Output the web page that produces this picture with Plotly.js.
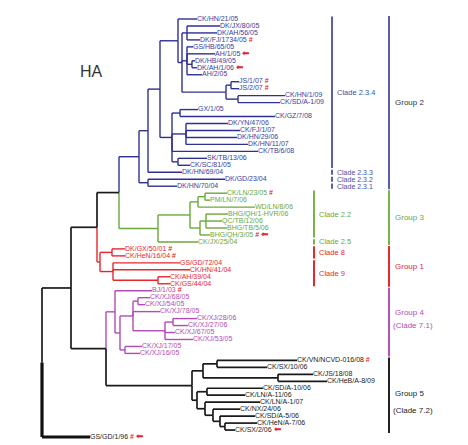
<!DOCTYPE html>
<html><head><meta charset="utf-8">
<script src="https://cdn.plot.ly/plotly-3.0.1.min.js"></script>
<style>html,body{margin:0;padding:0;background:#fff}</style>
</head><body><div id="chart" style="width:468px;height:445px"></div>
<script>
// ---- internal nodes of the HA tree (depth = distance from left edge, tree units) ----
const nodeIds     = ['R','N71','N97','N119','N139','N148','C234','A','A1','A2','A3','A4','J','JS','HS','B','GG','B1','B2','GD70',
                     'G','G22','GA','GLN','GB','GB1','RR','C8','C9','AHGS','N106','P0','P1','P2','P2a','P3','P3a','P4',
                     'G5','G5a','VS','JH','G5c','SL','L1','L2','L3','L4'];
const nodeParents = [null,'R','N71','N97','N119','N139','N148','C234','A','A1','A1','A3','A1','J','J','C234','B','B','B','N139',
                     'N119','G','G22','GA','G22','GB','N97','RR','RR','C9','N71','N106','P0','P1','P2','P2','P3','P1',
                     'N106','G5','G5a','G5a','G5','G5c','G5c','L1','L2','L3'];
const nodeDepth   = [42,71,97,119,139,148,160,178,182,187,187,192,226,231,238,172,180,186,178,148,
                     158,190,198,205,200,206,100,112,113,158,106,115,120,133,138,165,173,125,
                     192,203,217,278,197,207,205,213,220,225];

// ---- leaves (top to bottom) ----
const leafNames = ['CK/HN/21/05','DK/JX/80/05','DK/AH/56/05','DK/FJ/1734/05','GS/HB/65/05','AH/1/05','DK/HB/49/05','DK/AH/1/06','AH/2/05',
  'JS/1/07','JS/2/07','CK/HN/1/09','CK/SD/A-1/09','GX/1/05','CK/GZ/7/08','DK/YN/47/06','CK/FJ/1/07','DK/HN/29/06','DK/HN/11/07',
  'CK/TB/6/08','SK/TB/13/06','CK/SC/81/05','DK/HN/69/04','DK/GD/23/04','DK/HN/70/04',
  'CK/LN/23/05','PM/LN/7/06','WD/LN/8/06','BHG/QH/1-HVR/06','QC/TB/12/06','BHG/TB/5/06','BHG/QH/3/05','CK/JX/25/04',
  'DK/GX/50/01','CK/HeN/16/04','GS/GD/72/04','CK/HN/41/04','CK/AH/39/04','CK/GS/44/04',
  'BJ/1/03','CK/XJ/68/05','CK/XJ/54/05','CK/XJ/78/05','CK/XJ/28/06','CK/XJ/27/06','CK/XJ/67/05','CK/XJ/53/05','CK/XJ/17/05','CK/XJ/16/05',
  'CK/VN/NCVD-016/08','CK/SX/10/06','CK/JS/18/08','CK/HeB/A-8/09','CK/SD/A-10/06','CK/LN/A-11/06','CK/LN/A-1/07','CK/NX/24/06',
  'CK/SD/A-5/06','CK/HeN/A-7/06','CK/SX/2/06','GS/GD/1/96'];
const leafParents = ['A','A2','A2','A2','A3','A3','A4','A4','A3','JS','JS','HS','HS','GG','GG','B1','B1','B1','B1','B','B2','B2','N148','GD70','GD70',
  'GLN','GLN','GA','GB1','GB1','GB1','GB','G',
  'C8','C8','C9','C9','AHGS','AHGS',
  'P0','P2a','P2a','P2','P3a','P3a','P3','P3','P4','P4',
  'VS','VS','JH','JH','SL','SL','L1','L2','L3','L4','L4','R'];
const leafDepth = [197,220,217,200,193,215,195,197,202,239,239,285,280,198,275,228,240,237,248,258,207,190,182,225,177,
  227,210,255,228,222,227,210,198,
  125,125,180,190,170,170,
  152,150,145,160,197,188,175,193,142,140,
  297,267,313,327,263,245,260,240,255,257,235,90];
const leafGroups = [2,2,2,2,2,2,2,2,2,2,2,2,2,2,2,2,2,2,2,2,2,2,2,2,2,
  3,3,3,3,3,3,3,3, 1,1,1,1,1,1, 4,4,4,4,4,4,4,4,4,4, 5,5,5,5,5,5,5,5,5,5,5, 0];
const leafHash  = [3,9,10,25,31,33,34,39,49,60];   // names marked with a red #
const leafArrow = [5,7,31,59,60];                  // names marked with a red arrow

// ---- clades and groups (first / last leaf index) ----
const cladeNames = ['Clade 2.3.4','Clade 2.3.3','Clade 2.3.2','Clade 2.3.1','Clade 2.2','Clade 2.5','Clade 8','Clade 9'];
const cladeFirst = [0,22,23,24,25,32,33,35];
const cladeLast  = [21,22,23,24,31,32,34,38];
const cladeGroup = [2,2,2,2,3,3,1,1];
const groupNames = ['Group 2','Group 3','Group 1','Group 4','Group 5'];
const groupSub   = ['','','','(Clade 7.1)','(Clade 7.2)'];
const groupIds   = [2,3,1,4,5];
const groupFirst = [0,25,33,39,49];
const groupLast  = [24,32,38,48,59];

// ---- styles ----
const lineCol = {0:'#1a1a1a',1:'#e8262d',2:'#2e3192',3:'#6aa83c',4:'#b24bb6',5:'#1a1a1a',mix:'#1a1a1a'};
const textCol = {0:'#222222',1:'#e8262d',2:'#3a3d9c',3:'#6aa83c',4:'#b24bb6',5:'#222222'};
const barCol  = {1:'#e8262d',2:'#5b5ea8',3:'#76b446',4:'#b752ba',5:'#222222'};
const labCol  = {1:'#e8262d',2:'#333333',3:'#6aa83c',4:'#b24bb6',5:'#222222'};
const labShift = {4:[10,-3], 5:[2,-15]};
const RED = '#e8262d';
const Y0 = 19, STEP = 6.967;
const leafY = i => Y0 + i*STEP;

// ---- layout computation ----
const nodes = {};
nodeIds.forEach((id,k)=>{ nodes[id] = {id, x:nodeDepth[k], parent:nodeParents[k], children:[], leaf:false}; });
const items = [];
leafNames.forEach((n,i)=>{
  const it = {id:'leaf'+i, x:leafDepth[i], parent:leafParents[i], y:leafY(i), leaf:true, grp:leafGroups[i], idx:i};
  items.push(it); nodes[it.id] = it;
});
nodeIds.forEach(id=>{ const p = nodes[id].parent; if (p) nodes[p].children.push(nodes[id]); });
items.forEach(it=> nodes[it.parent].children.push(it));
function solve(n){
  if (n.leaf) return;
  n.children.forEach(solve);
  const ys = n.children.map(c=>c.y);
  n.y = (Math.min(...ys)+Math.max(...ys))/2;
  const gs = new Set(n.children.map(c=>c.grp));
  n.grp = gs.size===1 ? [...gs][0] : 'mix';
}
solve(nodes['R']);

const segs = {};
function add(key, x0,y0,x1,y1){ (segs[key] = segs[key] || {x:[],y:[]}); segs[key].x.push(x0,x1,null); segs[key].y.push(y0,y1,null); }
Object.values(nodes).forEach(n=>{
  if (n.parent){
    const p = nodes[n.parent];
    const thick = n.leaf && n.idx===60;
    add(thick?'thick':String(n.grp), p.x, n.y, n.x, n.y);
    add(thick?'thick':String(n.grp), p.x, p.y, p.x, n.y);
  }
});
const traces = [];
Object.keys(segs).forEach(k=>{
  const col = k==='thick' ? '#111' : lineCol[k];
  traces.push({type:'scatter', mode:'lines', x:segs[k].x, y:segs[k].y, hoverinfo:'skip', showlegend:false,
    line:{color:col, width: k==='thick'?3.2:(k==='5'||k==='mix'||k==='0'?1.7:1.4)}, connectgaps:false});
});
// labels per group
[0,1,2,3,4,5].forEach(g=>{
  const xs=[], ys=[], ts=[];
  leafNames.forEach((n,i)=>{
    if (leafGroups[i]!==g) return;
    let t = n;
    if (leafHash.includes(i)) t += ' <span style="color:'+RED+';font-weight:bold">#</span>';
    if (leafArrow.includes(i)) t += ' <span style="color:'+RED+';font-size:9px">\u2B05</span>';
    xs.push(leafDepth[i]); ys.push(leafY(i)); ts.push(t);
  });
  traces.push({type:'scatter', mode:'text', x:xs, y:ys, text:ts, textposition:'middle right', hoverinfo:'skip', showlegend:false,
    textfont:{family:'Liberation Sans, Arial, sans-serif', size:7, color:textCol[g]}});
});

const shapes = [], annotations = [];
cladeNames.forEach((c,k)=>{
  const inner = cladeGroup[k]===2;
  const single = cladeFirst[k]===cladeLast[k] && inner;
  const bx = inner ? 332 : 314;
  const y0 = leafY(cladeFirst[k])-2.6, y1 = leafY(cladeLast[k])+2.6;
  shapes.push({type:'line', xref:'x', yref:'y', x0:bx, x1:bx, y0, y1, line:{color:barCol[cladeGroup[k]], width:2}});
  annotations.push({x:bx+4, y:(y0+y1)/2, xref:'x', yref:'y', text:c, showarrow:false, xanchor:'left', yanchor:'middle', borderpad:0,
    font:{family:'Liberation Sans, Arial, sans-serif', size: single ? 7 : 7.5, color: inner ? '#4a4da3' : lineCol[cladeGroup[k]]}});
});
groupNames.forEach((g,k)=>{
  const gid = groupIds[k];
  const y0 = leafY(groupFirst[k])-3, y1 = leafY(groupLast[k])+3;
  shapes.push({type:'line', xref:'x', yref:'y', x0:389, x1:389, y0, y1, line:{color:barCol[gid], width:2}});
  const mid = (y0+y1)/2;
  const sh = labShift[gid] || [0,0];
  annotations.push({x:393, y:mid, yshift: sh[0], xref:'x', yref:'y', text:g, showarrow:false, xanchor:'left', yanchor:'middle',
    font:{family:'Liberation Sans, Arial, sans-serif', size:8, color:labCol[gid]}});
  if (groupSub[k]) annotations.push({x:391, y:mid, yshift:sh[1], xref:'x', yref:'y', text:groupSub[k], showarrow:false, xanchor:'left', yanchor:'middle',
    font:{family:'Liberation Sans, Arial, sans-serif', size:8, color:labCol[gid]}});
});
annotations.push({x:91, y:71, xref:'x', yref:'y', text:'HA', showarrow:false, xanchor:'center', yanchor:'middle',
  font:{family:'Liberation Sans, Arial, sans-serif', size:16, color:'#333'}});

Plotly.newPlot('chart', traces, {
  width:468, height:445, margin:{l:0,r:0,t:0,b:0}, paper_bgcolor:'#fff', plot_bgcolor:'#fff',
  xaxis:{range:[0,468], visible:false, fixedrange:true},
  yaxis:{range:[445,0], visible:false, fixedrange:true},
  shapes, annotations, showlegend:false
}, {staticPlot:true, displayModeBar:false});
</script></body></html>
